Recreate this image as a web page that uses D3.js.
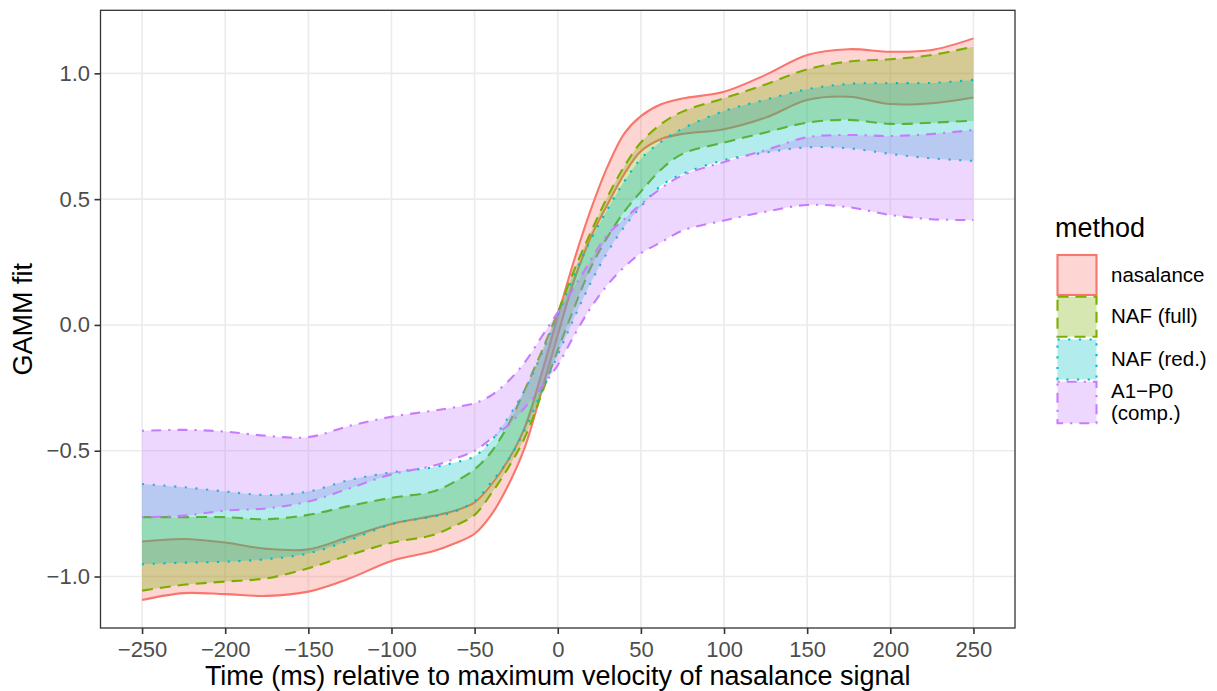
<!DOCTYPE html>
<html>
<head>
<meta charset="utf-8">
<script src="https://cdn.jsdelivr.net/npm/d3@7"></script>
<style>
  body { margin: 0; background: #fff; }
  text { font-family: "Liberation Sans", Arial, sans-serif; }
</style>
</head>
<body>
<svg id="chart"></svg>
<script>
// DATA
const time = [-250, -225, -200, -175, -150, -125, -100, -75, -62.5, -50, -40, -30, -20, -10, 0,
  10, 20, 30, 40, 50, 62.5, 75, 100, 125, 150, 175, 200, 225, 250];

const nasalanceUpper = [-0.861, -0.851, -0.865, -0.890, -0.892, -0.841, -0.791, -0.759, -0.740, -0.705, -0.635, -0.540, -0.410, -0.200, 0.035,
  0.260, 0.460, 0.630, 0.760, 0.830, 0.878, 0.900, 0.927, 0.994, 1.073, 1.096, 1.086, 1.093, 1.139];
const nasalanceLower = [-1.093, -1.066, -1.070, -1.077, -1.060, -1.007, -0.938, -0.900, -0.870, -0.830, -0.755, -0.640, -0.490, -0.270, -0.040,
  0.180, 0.350, 0.480, 0.600, 0.690, 0.740, 0.759, 0.778, 0.824, 0.894, 0.907, 0.878, 0.881, 0.904];

const nafFullUpper = [-0.764, -0.764, -0.764, -0.772, -0.755, -0.719, -0.687, -0.662, -0.625, -0.574, -0.505, -0.400, -0.260, -0.110, 0.050,
  0.220, 0.370, 0.510, 0.630, 0.725, 0.800, 0.848, 0.901, 0.956, 1.016, 1.047, 1.056, 1.073, 1.106];
const nafFullLower = [-1.056, -1.033, -1.020, -1.007, -0.967, -0.914, -0.866, -0.835, -0.800, -0.755, -0.670, -0.570, -0.450, -0.280, -0.100,
  0.070, 0.230, 0.350, 0.450, 0.530, 0.620, 0.680, 0.725, 0.765, 0.804, 0.815, 0.799, 0.804, 0.812];

const nafRedUpper = [-0.632, -0.645, -0.662, -0.676, -0.662, -0.616, -0.586, -0.566, -0.548, -0.522, -0.460, -0.370, -0.260, -0.120, 0.040,
  0.200, 0.340, 0.460, 0.570, 0.660, 0.730, 0.780, 0.850, 0.895, 0.937, 0.958, 0.961, 0.962, 0.974];
const nafRedLower = [-0.951, -0.945, -0.941, -0.931, -0.908, -0.855, -0.792, -0.762, -0.743, -0.700, -0.625, -0.540, -0.420, -0.270, -0.120,
  0.030, 0.170, 0.290, 0.390, 0.470, 0.555, 0.600, 0.655, 0.685, 0.706, 0.702, 0.680, 0.662, 0.652];

const a1p0Upper = [-0.421, -0.417, -0.424, -0.441, -0.446, -0.401, -0.365, -0.341, -0.328, -0.311, -0.280, -0.225, -0.150, -0.050, 0.050,
  0.150, 0.260, 0.360, 0.420, 0.480, 0.545, 0.595, 0.648, 0.695, 0.746, 0.755, 0.751, 0.759, 0.775];
const a1p0Lower = [-0.764, -0.758, -0.738, -0.729, -0.702, -0.649, -0.594, -0.560, -0.533, -0.500, -0.452, -0.400, -0.330, -0.250, -0.160,
  -0.040, 0.070, 0.160, 0.230, 0.285, 0.330, 0.375, 0.415, 0.450, 0.477, 0.468, 0.437, 0.420, 0.417];

const methods = ["nasalance", "NAF (full)", "NAF (red.)", "A1\u2212P0 (comp.)"];
const methodLabels = [["nasalance"], ["NAF (full)"], ["NAF (red.)"], ["A1\u2212P0", "(comp.)"]];
const colors = ["#F8766D", "#7CAE00", "#00BFC4", "#C77CFF"];
const dashes = [null, "11,7", "2.2,8.5", "2.2,7,10,7"];

const xTicks = [-250, -200, -150, -100, -50, 0, 50, 100, 150, 200, 250];
const yTicks = [-1.0, -0.5, 0.0, 0.5, 1.0];

const xTitle = "Time (ms) relative to maximum velocity of nasalance signal";
const yTitle = "GAMM fit";
const legendTitle = "method";

// build one row per method
const bands = [
  [nasalanceUpper, nasalanceLower],
  [nafFullUpper, nafFullLower],
  [nafRedUpper, nafRedLower],
  [a1p0Upper, a1p0Lower]
].map(([hi, lo], i) => ({
  method: methods[i],
  color: colors[i],
  dash: dashes[i],
  values: time.map((t, j) => ({ t: t, hi: hi[j], lo: lo[j] }))
}));

/* LAYOUT */
const width = 1217;
const height = 691;
const margin = { top: 10.3, right: 202, bottom: 63, left: 100.5 };

const svg = d3.select("#chart")
  .attr("width", width)
  .attr("height", height);

// + SCALES (ggplot style 5% expansion)
const xExt = d3.extent(time);
const xPad = (xExt[1] - xExt[0]) * 0.05;
const allY = bands.flatMap(b => b.values.flatMap(d => [d.hi, d.lo]));
const yExt = d3.extent(allY);
const yPad = (yExt[1] - yExt[0]) * 0.05;

const xScale = d3.scaleLinear()
  .domain([xExt[0] - xPad, xExt[1] + xPad])
  .range([margin.left, width - margin.right]);

const yScale = d3.scaleLinear()
  .domain([yExt[0] - yPad, yExt[1] + yPad])
  .range([height - margin.bottom, margin.top]);

const pw = width - margin.right - margin.left;
const ph = height - margin.bottom - margin.top;

// + GRID
const grid = svg.append("g");
grid.selectAll(".vgrid")
  .data(xTicks)
  .join("line")
  .attr("class", "vgrid")
  .attr("x1", d => xScale(d)).attr("x2", d => xScale(d))
  .attr("y1", margin.top).attr("y2", height - margin.bottom)
  .attr("stroke", "#EBEBEB")
  .attr("stroke-width", 1.6);
grid.selectAll(".hgrid")
  .data(yTicks)
  .join("line")
  .attr("class", "hgrid")
  .attr("x1", margin.left).attr("x2", width - margin.right)
  .attr("y1", d => yScale(d)).attr("y2", d => yScale(d))
  .attr("stroke", "#EBEBEB")
  .attr("stroke-width", 1.6);

// + RIBBONS
const curve = d3.curveCatmullRom.alpha(0.5);
const areaGen = d3.area()
  .x(d => xScale(d.t))
  .y0(d => yScale(d.lo))
  .y1(d => yScale(d.hi))
  .curve(curve);
const hiLine = d3.line().x(d => xScale(d.t)).y(d => yScale(d.hi)).curve(curve);
const loLine = d3.line().x(d => xScale(d.t)).y(d => yScale(d.lo)).curve(curve);

const plot = svg.append("g")
  .attr("clip-path", "url(#panel-clip)");
svg.append("clipPath").attr("id", "panel-clip")
  .append("rect")
  .attr("x", margin.left).attr("y", margin.top)
  .attr("width", pw).attr("height", ph);

// draw group by group so later fills cover earlier outlines
bands.forEach(b => {
  const g = plot.append("g");
  g.append("path")
    .datum(b.values)
    .attr("d", areaGen)
    .attr("fill", b.color)
    .attr("fill-opacity", 0.3)
    .attr("stroke", "none");
  [hiLine, loLine].forEach(gen => {
    g.append("path")
      .datum(b.values)
      .attr("d", gen)
      .attr("fill", "none")
      .attr("stroke", b.color)
      .attr("stroke-width", 2.1)
      .attr("stroke-dasharray", b.dash);
  });
});

// + PANEL BORDER
svg.append("rect")
  .attr("x", margin.left).attr("y", margin.top)
  .attr("width", pw).attr("height", ph)
  .attr("fill", "none")
  .attr("stroke", "#333333")
  .attr("stroke-width", 1.3);

// + AXES
const xAxis = svg.append("g")
  .attr("transform", `translate(0, ${height - margin.bottom})`)
  .call(d3.axisBottom(xScale).tickValues(xTicks).tickSize(6).tickPadding(7).tickFormat(d3.format("d")));
const yAxis = svg.append("g")
  .attr("transform", `translate(${margin.left}, 0)`)
  .call(d3.axisLeft(yScale).tickValues(yTicks).tickSize(6).tickPadding(4.5).tickFormat(d3.format(".1f")));

[xAxis, yAxis].forEach(ax => {
  ax.select(".domain").remove();
  ax.selectAll(".tick line").attr("stroke", "#333333").attr("stroke-width", 1.6);
  ax.selectAll(".tick text")
    .attr("fill", "#4D4D4D")
    .style("font-size", "22px");
});
xAxis.selectAll(".tick text").attr("dy", "0.71em");

// AXIS LABELS
svg.append("text")
  .attr("x", margin.left + pw / 2)
  .attr("y", 684.5)
  .attr("text-anchor", "middle")
  .style("font-size", "27px")
  .attr("fill", "#000")
  .text(xTitle);

svg.append("text")
  .attr("transform", `translate(${32}, ${margin.top + ph / 2}) rotate(-90)`)
  .attr("text-anchor", "middle")
  .style("font-size", "27px")
  .attr("fill", "#000")
  .text(yTitle);

// + LEGEND
const legend = svg.append("g");
legend.append("text")
  .attr("x", 1055)
  .attr("y", 236.5)
  .style("font-size", "27px")
  .attr("fill", "#000")
  .text(legendTitle);

const keyTop = [255, 296.7, 339.5, 381.7];
const keyH = [40, 40, 40, 41.6];
const keys = legend.selectAll(".key")
  .data(bands)
  .join("g")
  .attr("class", "key");

keys.append("rect")
  .attr("x", 1057.5)
  .attr("y", (d, i) => keyTop[i])
  .attr("width", 39)
  .attr("height", (d, i) => keyH[i])
  .attr("fill", d => d.color)
  .attr("fill-opacity", 0.3)
  .attr("stroke", d => d.color)
  .attr("stroke-width", 2.1)
  .attr("stroke-dasharray", d => d.dash);

// one text element per label line
keys.each(function (d, i) {
  const lines = methodLabels[i];
  const cy = keyTop[i] + keyH[i] / 2;
  const lh = 22.5;
  const first = cy - (lines.length - 1) * lh / 2 + 6.6;
  d3.select(this).selectAll("text")
    .data(lines)
    .join("text")
    .attr("x", 1111)
    .attr("y", (s, k) => first + k * lh)
    .style("font-size", "20.5px")
    .attr("fill", "#000")
    .text(s => s);
});
</script>
</body>
</html>
